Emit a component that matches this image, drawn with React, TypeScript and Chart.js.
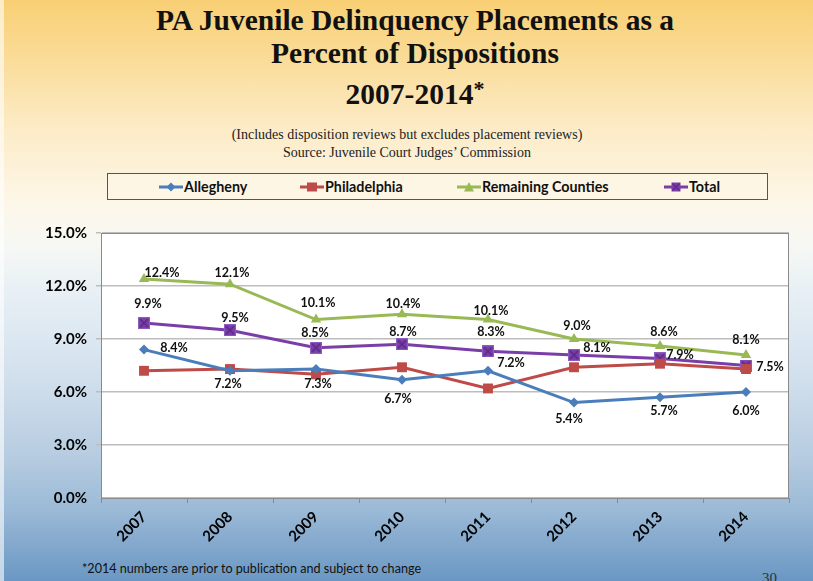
import React, { useEffect, useRef } from "react";
import { Chart, registerables } from "chart.js";

Chart.register(...registerables);

// ---- data ----
const years = ["2007", "2008", "2009", "2010", "2011", "2012", "2013", "2014"];
const seriesNames = ["Allegheny", "Philadelphia", "Remaining Counties", "Total"];
const allegheny = [8.4, 7.2, 7.3, 6.7, 7.2, 5.4, 5.7, 6.0];
const philadelphia = [7.2, 7.3, 7.0, 7.4, 6.2, 7.4, 7.6, 7.3];
const remaining = [12.4, 12.1, 10.1, 10.4, 10.1, 9.0, 8.6, 8.1];
const total = [9.9, 9.5, 8.5, 8.7, 8.3, 8.1, 7.9, 7.5];
const yMin = 0;
const yMax = 15;
const yStep = 3;

// label placement (offset of the label centre from its point, px)
const alleghenyLabelOffsets = [[30, -2], [-2, 13], [2, 15], [-4, 19], [23, -8], [-5, 16], [4, 14], [0, 19]];
const remainingLabelOffsets = [[18, -6], [2, -11], [2, -17], [1, -10], [3, -9], [3, -13], [4, -14], [0, -15]];
const totalLabelOffsets = [[4, -19], [5, -12], [-1, -15], [1, -12], [3, -19], [23, -7], [20, -3], [24, 1]];

const colors = {
  allegheny: "#4a7ebb",
  philadelphia: "#be4b48",
  remaining: "#98b954",
  total: "#7a3ea8",
};

const LABEL_FONT = "bold 12.5px Lato, 'Liberation Sans', sans-serif";

function makeTotalMarker(): HTMLCanvasElement {
  const c = document.createElement("canvas");
  c.width = 12;
  c.height = 12;
  const ctx = c.getContext("2d")!;
  ctx.fillStyle = "#8c5cc0";
  ctx.fillRect(0, 0, 12, 12);
  ctx.fillStyle = "#7a3ea8";
  ctx.fillRect(1, 1, 10, 10);
  ctx.strokeStyle = "#5b2a88";
  ctx.lineWidth = 1.5;
  ctx.beginPath();
  ctx.moveTo(2, 2);
  ctx.lineTo(10, 10);
  ctx.moveTo(10, 2);
  ctx.lineTo(2, 10);
  ctx.stroke();
  return c;
}

const plotBgPlugin = {
  id: "plotBg",
  beforeDraw(chart: any) {
    const { ctx, chartArea } = chart;
    ctx.save();
    ctx.fillStyle = "#ffffff";
    ctx.fillRect(chartArea.left, chartArea.top, chartArea.right - chartArea.left, chartArea.bottom - chartArea.top);
    ctx.restore();
  },
  afterDraw(chart: any) {
    const { ctx, chartArea } = chart;
    ctx.save();
    ctx.strokeStyle = "#8a8a8a";
    ctx.lineWidth = 1;
    ctx.strokeRect(chartArea.left + 0.5, chartArea.top + 0.5, chartArea.right - chartArea.left - 1, chartArea.bottom - chartArea.top);
    ctx.restore();
  },
};

const dataLabelPlugin = {
  id: "dataLabels",
  afterDatasetsDraw(chart: any) {
    const { ctx } = chart;
    ctx.save();
    ctx.font = LABEL_FONT;
    ctx.fillStyle = "#111111";
    ctx.textAlign = "center";
    ctx.textBaseline = "middle";
    chart.data.datasets.forEach((ds: any, di: number) => {
      const offs = ds.labelOffsets;
      if (!offs) return;
      const meta = chart.getDatasetMeta(di);
      meta.data.forEach((pt: any, i: number) => {
        const v = ds.data[i];
        const [dx, dy] = offs[i];
        ctx.fillText(v.toFixed(1) + "%", pt.x + dx, pt.y + dy);
      });
    });
    ctx.restore();
  },
};

function LegendIcon({ color, shape }: { color: string; shape: string }) {
  let marker: any = null;
  if (shape === "diamond") marker = <polygon points="12,1.5 16.5,6 12,10.5 7.5,6" fill={color} />;
  if (shape === "square") marker = <rect x={7} y={1.5} width={10} height={9} fill={color} />;
  if (shape === "triangle") marker = <polygon points="12,1 17,10.5 7,10.5" fill={color} />;
  if (shape === "xsquare")
    marker = (
      <g>
        <rect x={7.5} y={1.5} width={9} height={9} fill={color} />
        <path d="M8.5 2.5 L15.5 9.5 M15.5 2.5 L8.5 9.5" stroke="#5b2a88" strokeWidth={1.3} />
      </g>
    );
  return (
    <svg width={24} height={12} style={{ display: "block" }}>
      <line x1={0} y1={6} x2={24} y2={6} stroke={color} strokeWidth={3} />
      {marker}
    </svg>
  );
}

const legendItems = [
  { name: seriesNames[0], color: colors.allegheny, shape: "diamond", left: 51 },
  { name: seriesNames[1], color: colors.philadelphia, shape: "square", left: 192 },
  { name: seriesNames[2], color: colors.remaining, shape: "triangle", left: 349 },
  { name: seriesNames[3], color: colors.total, shape: "xsquare", left: 556 },
];

export default function App() {
  const canvasRef = useRef<HTMLCanvasElement | null>(null);

  useEffect(() => {
    const canvas = canvasRef.current!;
    const totalMarker = makeTotalMarker();
    const chart = new Chart(canvas, {
      type: "line",
      data: {
        labels: years,
        datasets: [
          {
            label: seriesNames[0],
            data: allegheny,
            borderColor: colors.allegheny,
            backgroundColor: colors.allegheny,
            borderWidth: 3,
            pointStyle: "rectRot",
            pointRadius: 5,
            pointBorderWidth: 0,
            labelOffsets: alleghenyLabelOffsets,
          } as any,
          {
            label: seriesNames[1],
            data: philadelphia,
            borderColor: colors.philadelphia,
            backgroundColor: colors.philadelphia,
            borderWidth: 3,
            pointStyle: "rect",
            pointRadius: 7,
            pointBorderWidth: 0,
          },
          {
            label: seriesNames[2],
            data: remaining,
            borderColor: colors.remaining,
            backgroundColor: colors.remaining,
            borderWidth: 3,
            pointStyle: "triangle",
            pointRadius: 6,
            pointBorderWidth: 0,
            labelOffsets: remainingLabelOffsets,
          } as any,
          {
            label: seriesNames[3],
            data: total,
            borderColor: colors.total,
            backgroundColor: colors.total,
            borderWidth: 3,
            pointStyle: totalMarker,
            pointRadius: 6,
            pointBorderWidth: 0,
            labelOffsets: totalLabelOffsets,
          } as any,
        ],
      },
      options: {
        responsive: false,
        animation: false,
        devicePixelRatio: 1,
        layout: { padding: { left: 0, right: 24, top: 17, bottom: 0 } },
        plugins: {
          legend: { display: false },
          tooltip: { enabled: false },
        },
        elements: { line: { tension: 0 } },
        scales: {
          x: {
            offset: true,
            grid: {
              display: true,
              drawOnChartArea: false,
              drawTicks: true,
              tickLength: 5,
              color: "#8a8a8a",
              offset: true,
            },
            border: { display: true, color: "#8a8a8a", width: 1 },
            ticks: {
              minRotation: 45,
              maxRotation: 45,
              color: "#000000",
              padding: 5,
              font: { family: "Lato, 'Liberation Sans', sans-serif", size: 15, weight: "bold" },
            },
            afterFit(scale: any) {
              scale.height = 62;
            },
          },
          y: {
            min: yMin,
            max: yMax,
            ticks: {
              stepSize: yStep,
              color: "#000000",
              padding: 9,
              font: { family: "Lato, 'Liberation Sans', sans-serif", size: 15, weight: "bold" },
              callback: (v: any) => Number(v).toFixed(1) + "%",
            },
            grid: {
              color: "#bdbdbd",
              lineWidth: 1.5,
              drawTicks: true,
              tickLength: 5,
            },
            border: { display: true, color: "#8a8a8a", width: 1 },
            afterFit(scale: any) {
              scale.width = 101;
            },
          },
        },
      },
      plugins: [plotBgPlugin, dataLabelPlugin],
    });
    return () => chart.destroy();
  }, []);

  const serif = "'Liberation Serif', 'DejaVu Serif', serif";
  const sans = "Lato, 'Liberation Sans', sans-serif";

  return (
    <div
      style={{
        position: "absolute",
        left: 0,
        top: 0,
        width: 813,
        height: 581,
        overflow: "hidden",
        background:
          "linear-gradient(to bottom, #f8cf74 0%, #fadc98 10%, #fcebc6 22%, #fdf6e6 34%, #f7f8f4 42%, #e8f0f5 50%, #d3e1ee 64%, #b8cde1 78%, #9ab9d6 88%, #6a97c3 100%)",
      }}
    >
      <div style={{ position: "absolute", left: 0, top: 0, width: 4, height: 581, background: "rgba(255,255,255,0.6)" }} />
      <div
        style={{
          position: "absolute",
          left: 15,
          width: 800,
          top: 4,
          textAlign: "center",
          fontFamily: serif,
          fontWeight: "bold",
          fontSize: 29.5,
          lineHeight: "33px",
          color: "#111",
        }}
      >
        <div>PA Juvenile Delinquency Placements as a</div>
        <div>Percent of Dispositions</div>
        <div style={{ marginTop: 2 }}>
          2007-2014<span style={{ fontSize: 22, verticalAlign: "8px" }}>*</span>
        </div>
      </div>
      <div
        style={{
          position: "absolute",
          left: 7,
          width: 800,
          top: 126,
          textAlign: "center",
          fontFamily: serif,
          fontSize: 14,
          lineHeight: "18px",
          color: "#222",
        }}
      >
        <div>(Includes disposition reviews but excludes placement reviews)</div>
        <div>Source: Juvenile Court Judges’ Commission</div>
      </div>

      <div
        style={{
          position: "absolute",
          left: 107,
          top: 173,
          width: 659,
          height: 25,
          border: "1px solid #555",
          background: "rgba(253,246,228,0.9)",
        }}
      >
        {legendItems.map((it) => (
          <div
            key={it.name}
            style={{
              position: "absolute",
              left: it.left,
              top: 0,
              height: 25,
              display: "flex",
              alignItems: "center",
              gap: 1,
              fontFamily: sans,
              fontWeight: "bold",
              fontSize: 14.3,
              color: "#111",
              whiteSpace: "nowrap",
            }}
          >
            <LegendIcon color={it.color} shape={it.shape} />
            <span>{it.name}</span>
          </div>
        ))}
      </div>

      <canvas
        ref={canvasRef}
        width={813}
        height={345}
        style={{ position: "absolute", left: 0, top: 215, width: 813, height: 345 }}
      />

      <div
        style={{
          position: "absolute",
          left: 82,
          top: 561,
          fontFamily: sans,
          fontSize: 12.6,
          lineHeight: "16px",
          color: "#111",
          whiteSpace: "nowrap",
        }}
      >
        *2014 numbers are prior to publication and subject to change
      </div>
      <div
        style={{
          position: "absolute",
          left: 762,
          top: 569,
          fontFamily: serif,
          fontSize: 15,
          lineHeight: "18px",
          color: "#333",
        }}
      >
        30
      </div>
    </div>
  );
}
